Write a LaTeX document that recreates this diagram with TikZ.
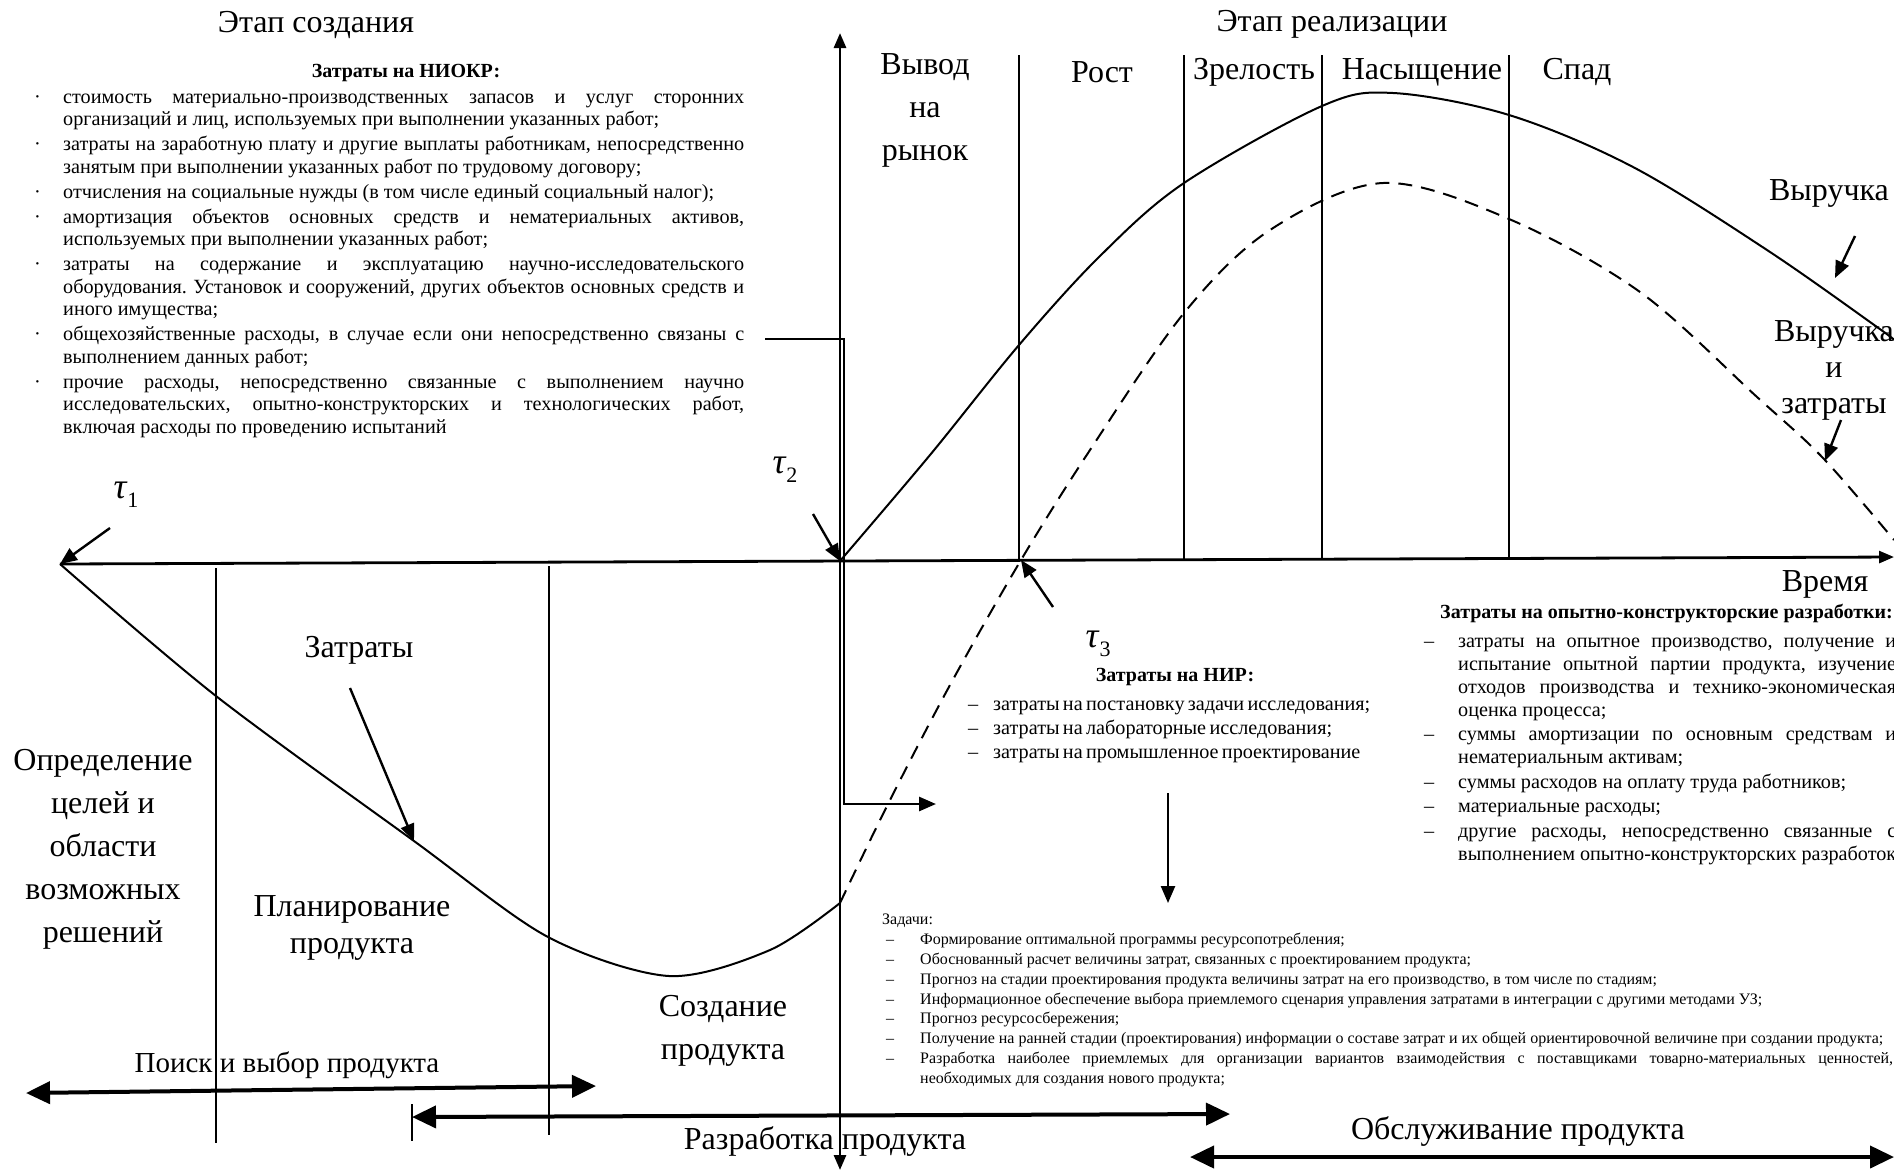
\documentclass[tikz,border=0pt]{standalone}
\usepackage{fontspec}
\setmainfont{Liberation Serif}
\usetikzlibrary{arrows.meta}
\newcommand\litem[3]{\par\noindent\hangindent=#1\hangafter=1\makebox[#1][l]{#2}#3}
\newcommand\mytau[1]{\textit{τ}\raisebox{-0.25em}{\fontsize{22}{22}\selectfont #1}}
\frenchspacing
\tikzset{
  divider/.style={line width=1.5pt},
  axisline/.style={line width=2.8pt},
  curve/.style={line width=2pt},
  dcurve/.style={line width=2pt, dash pattern=on 14pt off 9pt},
  ptr/.style={line width=2.4pt,-{Triangle[length=17pt,width=14pt]}},
  fat/.style={line width=4pt},
  fathead/.tip={Triangle[length=24pt,width=22pt]},
  axhead/.tip={Triangle[length=15pt,width=12pt]},
  big/.style={font=\fontsize{32}{38}\selectfont, inner sep=0pt},
  bigc/.style={font=\fontsize{32}{43}\selectfont, align=center, inner sep=0pt},
  tau/.style={font=\fontsize{36}{38}\selectfont, inner sep=0pt},
  head/.style={font=\fontsize{20}{23}\selectfont\bfseries, inner sep=0pt},
  para/.style={inner sep=0pt, anchor=north west, align=justify},
}
\begin{document}
\begin{tikzpicture}[x=1pt,y=-1pt]
\useasboundingbox (0,0) rectangle (1894,1171);

% key points
\coordinate (t1) at (60,564);
\coordinate (t2) at (840,561);
\coordinate (t3) at (1021,560);
\coordinate (xend) at (1894,557);
\coordinate (ytop) at (840,33);
\coordinate (ybot) at (840,1170);

% axes
\draw[axisline,-{axhead}] (t1) -- (xend);
\draw[axisline,{axhead}-{axhead}] (ybot) -- (ytop);

% dividers top right
\draw[divider] (1019,55) -- (1019,560);
\draw[divider] (1184,55) -- (1184,559);
\draw[divider] (1322,55) -- (1322,559);
\draw[divider] (1509,55) -- (1509,558);
% dividers bottom left
\draw[divider] (216,568) -- (216,1143);
\draw[divider] (549,566) -- (549,1135);

% curves
\draw[curve] plot[smooth, tension=0.5] coordinates {(60,564) (216,696) (414,841) (548,937) (669,976) (770,950) (840,903)};
\draw[dcurve] plot[smooth, tension=0.55] coordinates {(840,903) (888,804) (950,685) (1021,560) (1090,450) (1184,313) (1270,230) (1383,183) (1509,219) (1640,292) (1757,397) (1823,458) (1894,540)};
\draw[curve] plot[smooth, tension=0.55] coordinates {(840,561) (930,455) (1019,345) (1100,256) (1184,183) (1322,106) (1393,93) (1509,115) (1633,167) (1767,250) (1877,327) (1894,340)};

% tau labels and pointers
\node[tau] (lt1) at (126,495) {\mytau{1}};
\node[tau] (lt2) at (785,470) {\mytau{2}};
\node[tau] (lt3) at (1098,644) {\mytau{3}};
\draw[ptr] (110,528) -- (t1);
\draw[ptr] (813,514) -- (t2);
\draw[ptr] (1053,607) -- (t3);

% titles
\node[big] (stc) at (316,25) {Этап создания};
\node[big] (str) at (1332,24) {Этап реализации};

% phase labels
\node[bigc] (vyvod) at (925,110) {Вывод\\на\\рынок};
\node[big] (rost) at (1102,72) {Рост};
\node[big] (zrel) at (1254,72) {Зрелость};
\node[big] (nas) at (1422,72) {Насыщение};
\node[big] (spad) at (1577,72) {Спад};

% revenue labels
\node[big] (vyr) at (1829,193) {Выручка};
\coordinate (vyrpt) at (1835,278);
\draw[ptr] (1855,236) -- (vyrpt);
\node[font=\fontsize{32}{36}\selectfont, align=center, inner sep=0pt] (vyrz) at (1834,370) {Выручка\\и\\затраты};
\coordinate (vyrzpt) at (1825,461);
\draw[ptr] (1841,420) -- (vyrzpt);
\node[big] (time) at (1825,584) {Время};

% left labels
\node[big] (zat) at (359,650) {Затраты};
\coordinate (zatpt) at (414,841);
\draw[ptr] (350,688) -- (zatpt);
\node[bigc] (opr) at (103,849) {Определение\\целей и\\области\\возможных\\решений};
\node[font=\fontsize{32}{37}\selectfont, align=center, inner sep=0pt] (plan) at (352,928) {Планирование\\продукта};
\node[bigc] (sozd) at (723,1031) {Создание\\продукта};

% bottom arrows
\node[font=\fontsize{29}{34}\selectfont, inner sep=0pt] (poisk) at (287,1065) {Поиск и выбор продукта};
\coordinate (pa) at (26,1093);
\coordinate (pb) at (596,1086);
\draw[fat,{fathead}-{fathead}] (pa) -- (pb);

\coordinate (ra) at (412,1117);
\coordinate (rb) at (1230,1114);
\draw[divider] (412,1104) -- (412,1141);
\draw[fat,{fathead}-{fathead}] (ra) -- (rb);
\node[big] (razr) at (825,1141) {Разработка продукта};

\coordinate (oa) at (1190,1157);
\coordinate (ob) at (1894,1157);
\draw[fat,{fathead}-{fathead}] (oa) -- (ob);
\node[big] (obsl) at (1518,1131) {Обслуживание продукта};

% bracket from NIOKR to NIR
\coordinate (bra) at (765,339);
\coordinate (brb) at (936,804);
\draw[axisline,-{Triangle[length=17pt,width=14pt]}] (bra) -- (844,339) -- (844,804) -- (brb);

% NIR down arrow
\coordinate (nira) at (1168,793);
\coordinate (nirb) at (1168,903);
\draw[ptr] (nira) -- (nirb);

% NIOKR
\node[head] (hniokr) at (406,73) {Затраты на НИОКР:};
\node[para, text width=712pt] (niokr) at (32,78) {\fontsize{20.2}{22.5}\selectfont\setlength\parskip{2.5pt}\hbadness=10000
\litem{31pt}{\hspace{2pt}·}{стоимость материально-производственных запасов и услуг сторонних\linebreak организаций и лиц, используемых при выполнении указанных работ;}
\litem{31pt}{\hspace{2pt}·}{затраты на заработную плату и другие выплаты работникам, непосредственно\linebreak занятым при выполнении указанных работ по трудовому договору;}
\litem{31pt}{\hspace{2pt}·}{отчисления на социальные нужды (в том числе единый социальный налог);}
\litem{31pt}{\hspace{2pt}·}{амортизация объектов основных средств и нематериальных активов,\linebreak используемых при выполнении указанных работ;}
\litem{31pt}{\hspace{2pt}·}{затраты на содержание и эксплуатацию научно-исследовательского\linebreak оборудования. Установок и сооружений, других объектов основных средств и\linebreak иного имущества;}
\litem{31pt}{\hspace{2pt}·}{общехозяйственные расходы, в случае если они непосредственно связаны с\linebreak выполнением данных работ;}
\litem{31pt}{\hspace{2pt}·}{прочие расходы, непосредственно связанные с выполнением научно\linebreak исследовательских, опытно-конструкторских и технологических работ,\linebreak включая расходы по проведению испытаний}\par};

% NIR
\node[head] (hnir) at (1175,677) {Затраты на НИР:};
\node[para, text width=440pt, align=left] (nir) at (968,686) {\fontsize{20.2}{24}\selectfont
\litem{25pt}{–}{затраты на постановку задачи исследования;}
\litem{25pt}{–}{затраты на лабораторные исследования;}
\litem{25pt}{–}{затраты на промышленное проектирование}\par};

% OKR
\node[head, anchor=west] (hokr) at (1440,613) {Затраты на опытно-конструкторские разработки:};
\node[para, text width=472pt] (okr) at (1424,623) {\fontsize{20.2}{22.7}\selectfont\setlength\parskip{2pt}\hbadness=10000
\litem{34pt}{–}{затраты на опытное производство, получение и\linebreak испытание опытной партии продукта, изучение\linebreak отходов производства и технико-экономическая\linebreak оценка процесса;}
\litem{34pt}{–}{суммы амортизации по основным средствам и\linebreak нематериальным активам;}
\litem{34pt}{–}{суммы расходов на оплату труда работников;}
\litem{34pt}{–}{материальные расходы;}
\litem{34pt}{–}{другие расходы, непосредственно связанные с\linebreak выполнением опытно-конструкторских разработок}\par};

% Tasks
\node[para, text width=1011pt] (tasks) at (882,914) {\fontsize{16}{19.8}\selectfont\hbadness=10000
\noindent Задачи:
\litem{38pt}{\hspace{4pt}–}{Формирование оптимальной программы ресурсопотребления;}
\litem{38pt}{\hspace{4pt}–}{Обоснованный расчет величины затрат, связанных с проектированием продукта;}
\litem{38pt}{\hspace{4pt}–}{Прогноз на стадии проектирования продукта величины затрат на его производство, в том числе по стадиям;}
\litem{38pt}{\hspace{4pt}–}{Информационное обеспечение выбора приемлемого сценария управления затратами в интеграции с другими методами УЗ;}
\litem{38pt}{\hspace{4pt}–}{Прогноз ресурсосбережения;}
\litem{38pt}{\hspace{4pt}–}{Получение на ранней стадии (проектирования) информации о составе затрат и их общей ориентировочной величине при создании продукта;}
\litem{38pt}{\hspace{4pt}–}{Разработка наиболее приемлемых для организации вариантов взаимодействия с поставщиками товарно-материальных ценностей,\linebreak необходимых для создания нового продукта;}\par};
\end{tikzpicture}
\end{document}
